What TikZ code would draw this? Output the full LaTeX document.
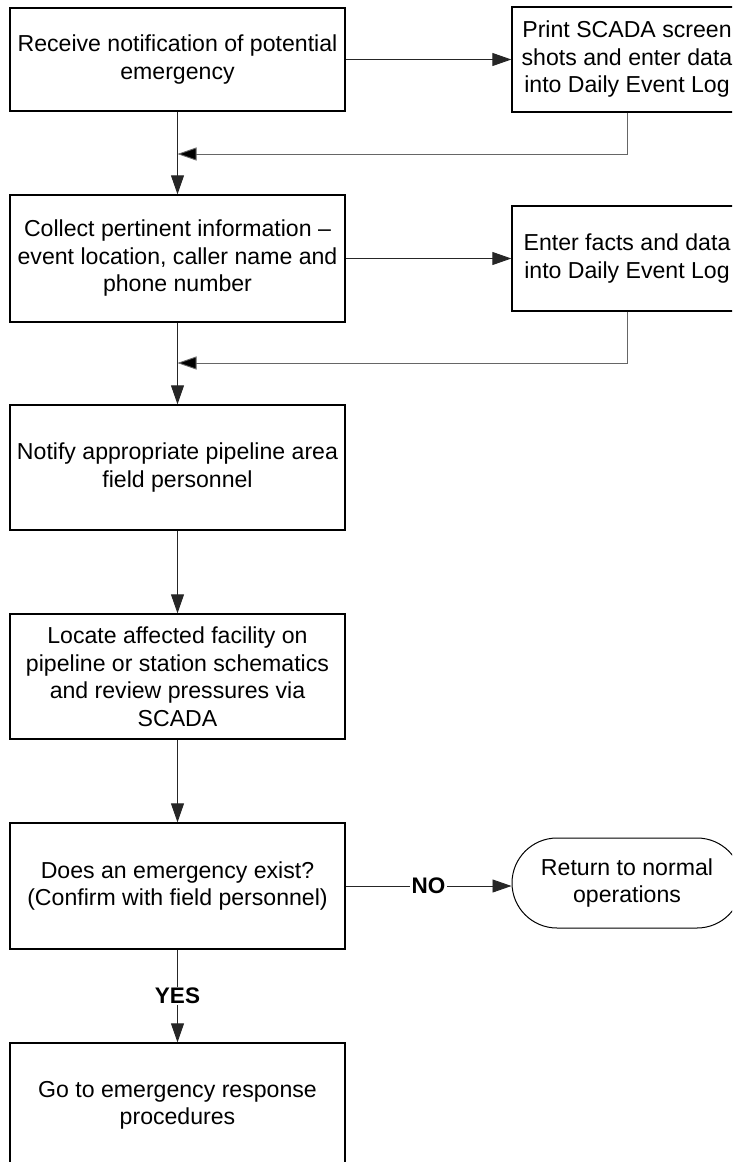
\documentclass[tikz,border=0pt]{standalone}
\usepackage{fontspec}
\setmainfont{Liberation Sans}
\usetikzlibrary{arrows.meta,positioning,calc}
\tikzset{
  boxnode/.style={draw=black, line width=1.3pt, rectangle, minimum width=335pt, align=center, inner sep=2pt,
    font=\fontsize{23.1}{27.5}\selectfont},
  sidebox/.style={boxnode, minimum width=230pt, minimum height=105pt},
  termnode/.style={draw=black, line width=1pt, rectangle, rounded corners=45pt, minimum width=230pt, minimum height=90pt,
    align=center, inner sep=2pt, font=\fontsize{23.1}{27.5}\selectfont},
  conn/.style={draw=black!85, line width=0.9pt, -{Triangle[length=19pt,width=13pt]}},
  retconn/.style={draw=black!60, line width=0.9pt, -{Triangle[length=19pt,width=13pt,fill=black]}},
  lbl/.style={font=\fontsize{22.5}{26}\selectfont\bfseries, fill=white, inner sep=1.5pt}
}
\begin{document}
\begin{tikzpicture}[x=1pt,y=-1pt]
\useasboundingbox (0,0) rectangle (732,1162);
\clip (0,0) rectangle (732,1162);
\node[boxnode, minimum height=103pt] (b1) at (177.5,59.5) {Receive notification of potential\\emergency};
\node[sidebox] (p1) at (627,59.5) {Print SCADA screen\\shots and enter data\\into Daily Event Log};
\node[boxnode, minimum height=127pt] (b2) at (177.5,258.5) {Collect pertinent information --\\event location, caller name and\\phone number};
\node[sidebox] (e1) at (627,258.5) {Enter facts and data\\into Daily Event Log};
\node[boxnode, minimum height=125pt] (b3) at (177.5,467.5) {Notify appropriate pipeline area\\field personnel};
\node[boxnode, minimum height=125pt] (b4) at (177.5,676.5) {Locate affected facility on\\pipeline or station schematics\\and review pressures via\\SCADA};
\node[boxnode, minimum height=126pt] (b5) at (177.5,886) {Does an emergency exist?\\(Confirm with field personnel)};
\node[termnode] (t1) at (627,883) {Return to normal\\operations};
\node[boxnode, minimum height=125pt] (b6) at (177.5,1105.5) {Go to emergency response\\procedures};
\coordinate (j1) at (177.5,154);
\coordinate (j2) at (177.5,363);
% connectors
\draw[conn] (b1.east) -- (p1.west);
\draw[retconn] (p1.south) |- (j1);
\draw[conn] (b1.south) -- (b2.north);
\draw[conn] (b2.east) -- (e1.west);
\draw[retconn] (e1.south) |- (j2);
\draw[conn] (b2.south) -- (b3.north);
\draw[conn] (b3.south) -- (b4.north);
\draw[conn] (b4.south) -- (b5.north);
\draw[conn] (b5.east) -- node[lbl, pos=0.5] {NO} (t1.west |- b5.east);
\draw[conn] (b5.south) -- node[lbl, pos=0.5] {YES} (b6.north);
\end{tikzpicture}
\end{document}
